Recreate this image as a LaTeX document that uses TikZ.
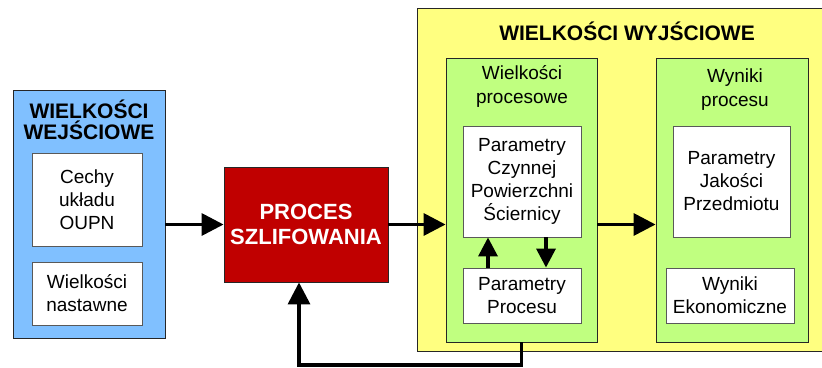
\documentclass[tikz,border=0pt]{standalone}
\usepackage{fontspec}
\setmainfont{Liberation Sans}
\usetikzlibrary{arrows.meta}

\definecolor{inblue}{RGB}{128,192,255}
\definecolor{outyellow}{RGB}{255,255,128}
\definecolor{procgreen}{RGB}{192,255,128}
\definecolor{procred}{RGB}{192,0,0}

\begin{document}
\begin{tikzpicture}[x=1pt,y=-1pt,
  box/.style={draw=black!85,line width=0.9pt,inner sep=0pt},
  whitebox/.style={box,fill=white,draw=black!65,align=center,font=\fontsize{19}{23}\selectfont},
  headtxt/.style={align=center,font=\fontsize{21}{21}\selectfont\bfseries},
  subtxt/.style={align=center,font=\fontsize{19}{24}\selectfont},
  arr/.style={line width=3.5pt,-{Triangle[length=22pt,width=22pt]}},
  smallarr/.style={line width=3.5pt,-{Triangle[length=19pt,width=19pt]}}]

\useasboundingbox (0,0) rectangle (822,367);

% wejscie
\path (89,214) node[box,fill=inblue,minimum width=152,minimum height=248] (inputs) {};
\path (89,120) node[headtxt] (intitle) {WIELKOŚCI\\WEJŚCIOWE};
\path (87,199.5) node[whitebox,minimum width=110,minimum height=93] (cechy) {Cechy\\układu\\OUPN};
\path (87,293.5) node[whitebox,minimum width=110,minimum height=63] (nastawne) {Wielkości\\nastawne};

% proces
\path (306,224.5) node[box,fill=procred,text=white,minimum width=164,minimum height=115,
  align=center,font=\fontsize{22}{25}\selectfont\bfseries] (red) {PROCES\\SZLIFOWANIA};

% wyjscie
\path (623.5,179.5) node[box,fill=outyellow,minimum width=413,minimum height=343] (outputs) {};
\path (627,31) node[headtxt] (outtitle) {WIELKOŚCI WYJŚCIOWE};

\path (521.5,200) node[box,fill=procgreen,minimum width=151,minimum height=284] (gleft) {};
\path (522,86) node[subtxt] (glefttitle) {Wielkości\\procesowe};
\path (522,181.5) node[whitebox,minimum width=118,minimum height=111] (pcps) {Parametry\\Czynnej\\Powierzchni\\Ściernicy};
\path (522,295.5) node[whitebox,minimum width=118,minimum height=55] (pproc) {Parametry\\Procesu};

\path (732,200) node[box,fill=procgreen,minimum width=152,minimum height=284] (gright) {};
\path (735,90) node[subtxt] (grighttitle) {Wyniki\\procesu};
\path (731.5,181.5) node[whitebox,minimum width=117,minimum height=111] (pjp) {Parametry\\Jakości\\Przedmiotu};
\path (730,295.5) node[whitebox,minimum width=128,minimum height=55] (wekon) {Wyniki\\Ekonomiczne};

% strzalki
\coordinate (fbturn) at (299,365);
\path[arr] (inputs.east |- red.west) edge (red.west);
\path[arr] (red.east) edge (gleft.west |- red.east);
\path[arr] (gleft.east |- red.east) edge (gright.west |- red.east);
\path[smallarr] ([xshift=-34]pproc.north) edge ([xshift=-34]pcps.south);
\path[smallarr] ([xshift=24]pcps.south) edge ([xshift=24]pproc.north);
\draw[arr] (gleft.south) |- (fbturn) -- (fbturn |- red.south);

\end{tikzpicture}
\end{document}
